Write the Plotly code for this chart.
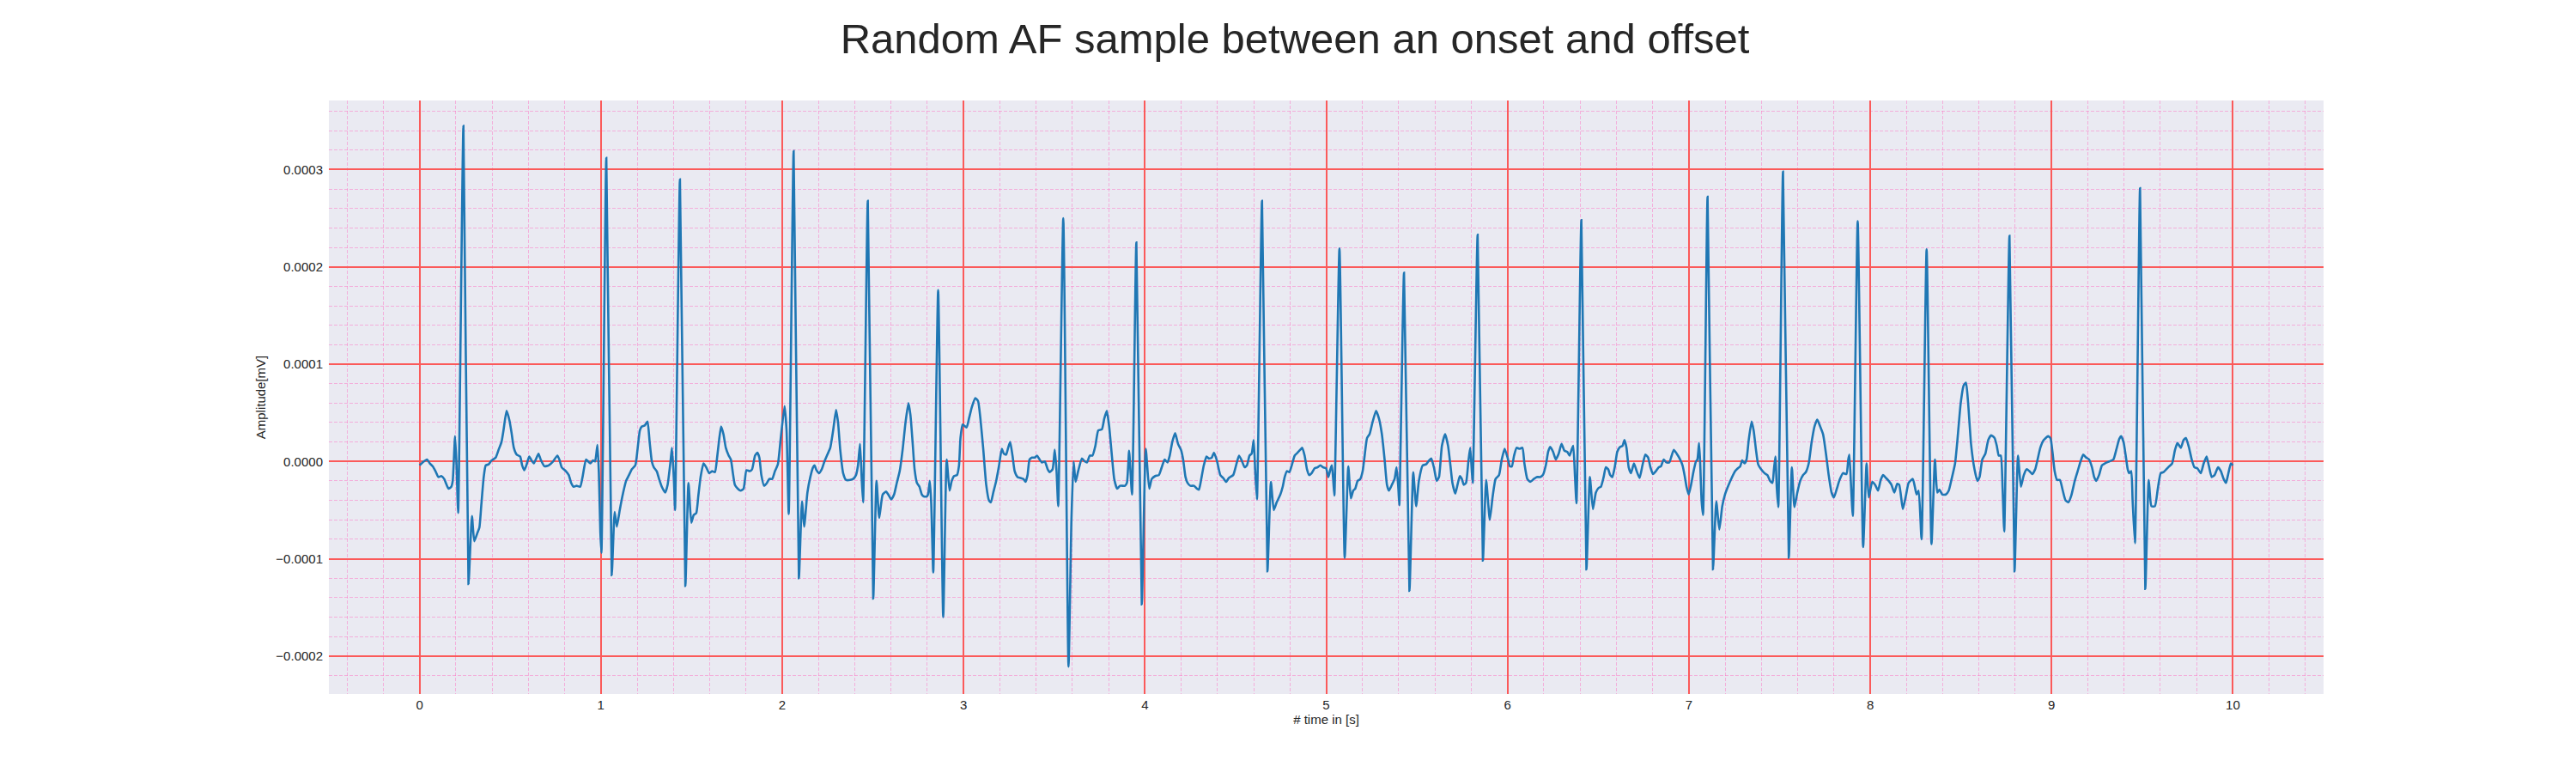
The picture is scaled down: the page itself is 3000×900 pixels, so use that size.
import plotly.graph_objects as go

# ECG trace: (time in s, amplitude in units of 1e-4 mV)
ecg_trace = [
    (0.000, -0.04), (0.017, -0.01), (0.041, 0.02), (0.057, -0.02), (0.073, -0.05),
    (0.088, -0.10), (0.104, -0.16), (0.120, -0.15), (0.136, -0.18), (0.147, -0.23),
    (0.160, -0.28), (0.175, -0.26), (0.183, -0.20), (0.196, 0.26), (0.204, -0.04),
    (0.213, -0.53), (0.242, 3.45), (0.270, -1.26), (0.289, -0.56), (0.302, -0.82),
    (0.318, -0.74), (0.330, -0.68), (0.341, -0.44), (0.354, -0.16), (0.365, -0.04),
    (0.381, -0.03), (0.397, 0.01), (0.420, 0.04), (0.436, 0.12), (0.452, 0.20),
    (0.463, 0.32), (0.480, 0.52), (0.496, 0.42), (0.507, 0.30), (0.520, 0.14),
    (0.536, 0.07), (0.555, 0.05), (0.566, -0.04), (0.578, -0.09), (0.589, -0.04),
    (0.605, 0.05), (0.618, 0.01), (0.630, -0.02), (0.641, 0.02), (0.656, 0.08),
    (0.668, 0.02), (0.689, -0.05), (0.712, -0.04), (0.736, 0.00), (0.760, 0.06),
    (0.771, 0.02), (0.784, -0.06), (0.807, -0.10), (0.823, -0.14), (0.836, -0.22),
    (0.850, -0.26), (0.866, -0.25), (0.886, -0.26), (0.899, -0.16), (0.918, 0.02),
    (0.930, 0.00), (0.942, -0.02), (0.957, 0.01), (0.968, 0.00), (0.981, 0.17),
    (0.989, -0.12), (0.997, -0.72), (1.003, -0.94), (1.030, 3.12), (1.060, -1.17),
    (1.076, -0.52), (1.088, -0.67), (1.104, -0.50), (1.123, -0.32), (1.139, -0.20),
    (1.155, -0.14), (1.171, -0.08), (1.190, -0.04), (1.202, 0.12), (1.215, 0.32),
    (1.226, 0.36), (1.242, 0.37), (1.257, 0.41), (1.269, 0.20), (1.281, 0.00),
    (1.292, -0.06), (1.308, -0.10), (1.321, -0.18), (1.336, -0.26), (1.355, -0.32),
    (1.368, -0.24), (1.384, 0.00), (1.392, 0.14), (1.403, -0.20), (1.409, -0.50),
    (1.436, 2.90), (1.466, -1.28), (1.483, -0.22), (1.499, -0.63), (1.512, -0.55),
    (1.526, -0.53), (1.537, -0.36), (1.550, -0.16), (1.566, -0.02), (1.581, -0.06),
    (1.597, -0.12), (1.613, -0.10), (1.629, -0.11), (1.641, 0.04), (1.652, 0.22),
    (1.663, 0.36), (1.676, 0.28), (1.689, 0.14), (1.705, 0.06), (1.717, 0.02),
    (1.728, -0.12), (1.739, -0.24), (1.755, -0.28), (1.771, -0.30), (1.787, -0.28),
    (1.803, -0.09), (1.821, -0.10), (1.834, -0.08), (1.850, 0.06), (1.863, 0.09),
    (1.874, 0.04), (1.885, -0.14), (1.900, -0.25), (1.916, -0.22), (1.929, -0.18),
    (1.945, -0.18), (1.960, -0.10), (1.976, -0.03), (1.992, 0.24), (2.013, 0.57),
    (2.024, 0.32), (2.036, -0.54), (2.063, 3.19), (2.092, -1.20),
    (2.109, -0.41), (2.121, -0.67), (2.139, -0.32), (2.155, -0.16), (2.170, -0.06),
    (2.178, -0.04), (2.189, -0.09), (2.202, -0.12), (2.218, -0.08), (2.233, 0.00),
    (2.249, 0.07), (2.265, 0.14), (2.281, 0.32), (2.297, 0.53), (2.308, 0.40),
    (2.320, 0.12), (2.336, -0.12), (2.352, -0.19), (2.375, -0.19), (2.391, -0.18),
    (2.407, -0.14), (2.418, -0.04), (2.429, 0.18), (2.438, -0.16), (2.446, -0.42),
    (2.472, 2.68), (2.502, -1.41), (2.520, -0.20), (2.535, -0.58), (2.554, -0.34),
    (2.573, -0.31), (2.585, -0.34), (2.601, -0.39), (2.617, -0.34), (2.632, -0.22),
    (2.648, -0.10), (2.664, 0.12), (2.680, 0.40), (2.696, 0.60), (2.707, 0.48),
    (2.719, 0.20), (2.730, -0.08), (2.743, -0.22), (2.757, -0.26), (2.770, -0.34),
    (2.781, -0.36), (2.797, -0.36), (2.804, -0.34), (2.814, -0.20), (2.822, -0.44),
    (2.833, -1.14), (2.860, 1.76), (2.888, -1.60), (2.907, 0.02), (2.923, -0.30),
    (2.935, -0.20), (2.948, -0.15), (2.964, -0.14), (2.975, -0.04), (2.983, 0.24),
    (2.995, 0.38), (3.017, 0.35), (3.030, 0.44), (3.046, 0.56), (3.065, 0.65),
    (3.080, 0.62), (3.093, 0.44), (3.109, 0.12), (3.125, -0.24), (3.140, -0.40),
    (3.151, -0.42), (3.164, -0.32), (3.180, -0.20), (3.196, -0.04), (3.211, 0.13),
    (3.222, 0.08), (3.235, 0.07), (3.246, 0.14), (3.257, 0.20), (3.270, 0.06),
    (3.282, -0.10), (3.298, -0.16), (3.314, -0.17), (3.330, -0.18), (3.342, -0.21),
    (3.353, -0.14), (3.364, 0.02), (3.377, 0.04), (3.393, 0.04), (3.405, 0.06),
    (3.416, 0.03), (3.432, -0.01), (3.448, 0.00), (3.464, -0.08), (3.475, -0.11),
    (3.491, -0.08), (3.503, 0.12), (3.513, -0.10), (3.522, -0.46), (3.550, 2.50),
    (3.579, -2.11), (3.595, -0.60), (3.607, 0.00), (3.618, -0.21), (3.632, -0.10),
    (3.653, 0.03), (3.669, 0.00), (3.681, -0.01), (3.696, 0.06), (3.711, 0.06),
    (3.727, 0.16), (3.743, 0.32), (3.763, 0.33), (3.776, 0.44), (3.790, 0.52),
    (3.803, 0.36), (3.819, 0.04), (3.831, -0.18), (3.847, -0.28), (3.863, -0.25),
    (3.874, -0.25), (3.890, -0.25), (3.901, -0.22), (3.913, 0.11), (3.929, -0.34),
    (3.953, 2.25), (3.983, -1.47), (4.005, 0.13),
    (4.024, -0.28), (4.038, -0.18), (4.057, -0.15), (4.077, -0.14), (4.093, -0.06),
    (4.109, 0.02), (4.125, -0.01), (4.137, 0.06), (4.151, 0.20), (4.167, 0.29),
    (4.183, 0.18), (4.199, 0.12), (4.211, 0.02), (4.224, -0.16), (4.235, -0.22),
    (4.251, -0.25), (4.271, -0.25), (4.287, -0.28), (4.298, -0.29), (4.309, -0.20),
    (4.325, -0.04), (4.340, 0.05), (4.353, 0.03), (4.369, 0.04), (4.381, 0.09),
    (4.397, 0.01), (4.416, -0.14), (4.432, -0.17), (4.448, -0.21), (4.463, -0.17),
    (4.487, -0.14), (4.503, -0.04), (4.519, 0.06), (4.534, 0.01), (4.550, -0.06),
    (4.563, -0.04), (4.577, 0.06), (4.589, 0.08), (4.600, 0.22), (4.608, -0.08),
    (4.618, -0.39), (4.646, 2.68), (4.676, -1.13), (4.695, -0.21), (4.711, -0.50),
    (4.727, -0.42), (4.747, -0.34), (4.760, -0.26), (4.771, -0.16), (4.783, -0.10),
    (4.797, -0.11), (4.810, -0.04), (4.826, 0.06), (4.842, 0.09), (4.857, 0.12),
    (4.868, 0.14), (4.881, 0.06), (4.894, -0.08), (4.906, -0.14), (4.920, -0.12),
    (4.936, -0.07), (4.952, -0.06), (4.968, -0.04), (4.983, -0.06), (4.999, -0.07),
    (5.012, -0.16), (5.023, -0.08), (5.031, -0.04), (5.039, -0.20), (5.045, -0.35),
    (5.073, 2.19), (5.102, -0.99), (5.122, -0.05), (5.136, -0.38), (5.149, -0.30),
    (5.160, -0.28), (5.173, -0.20), (5.188, -0.18), (5.201, -0.10), (5.212, 0.06),
    (5.225, 0.24), (5.239, 0.28), (5.255, 0.40), (5.275, 0.52), (5.291, 0.44),
    (5.307, 0.28), (5.322, 0.02), (5.335, -0.24), (5.346, -0.30), (5.362, -0.24),
    (5.377, -0.18), (5.388, -0.06), (5.398, -0.28), (5.403, -0.45), (5.429, 1.94),
    (5.459, -1.33), (5.480, -0.11), (5.496, -0.46), (5.511, -0.20), (5.532, -0.04),
    (5.551, -0.03), (5.567, 0.01), (5.579, 0.03), (5.595, -0.07), (5.609, -0.20),
    (5.622, -0.16), (5.638, 0.16), (5.656, 0.28), (5.672, 0.16), (5.685, -0.04),
    (5.696, -0.22), (5.712, -0.33), (5.724, -0.24), (5.737, -0.15), (5.748, -0.18),
    (5.759, -0.24), (5.771, -0.22), (5.784, 0.00), (5.794, 0.14), (5.803, -0.10),
    (5.808, -0.22), (5.835, 2.33), (5.864, -1.02), (5.882, -0.19), (5.902, -0.60),
    (5.918, -0.36), (5.934, -0.18), (5.953, -0.14), (5.968, 0.02), (5.984, 0.13),
    (6.000, 0.04), (6.013, -0.05), (6.024, -0.05), (6.036, 0.06),
    (6.050, 0.14), (6.066, 0.13), (6.082, 0.14), (6.093, -0.02), (6.109, -0.18),
    (6.125, -0.21), (6.145, -0.18), (6.161, -0.16), (6.180, -0.16), (6.195, -0.14),
    (6.211, -0.04), (6.224, 0.10), (6.235, 0.15), (6.251, 0.10), (6.266, 0.02),
    (6.282, 0.08), (6.298, 0.18), (6.314, 0.11), (6.329, 0.10), (6.342, 0.06),
    (6.353, 0.12), (6.362, 0.16), (6.372, -0.16), (6.380, -0.43), (6.407, 2.48),
    (6.435, -1.11), (6.454, -0.16), (6.471, -0.49), (6.487, -0.32), (6.503, -0.27),
    (6.515, -0.26), (6.530, -0.16), (6.542, -0.06), (6.555, -0.08), (6.566, -0.14),
    (6.578, -0.16), (6.593, -0.04), (6.605, 0.10), (6.621, 0.15), (6.634, 0.16),
    (6.645, 0.22), (6.656, 0.14), (6.668, -0.06), (6.681, -0.12), (6.697, -0.02),
    (6.712, -0.10), (6.728, -0.17), (6.744, -0.04), (6.760, 0.07), (6.775, 0.04),
    (6.788, -0.06), (6.802, -0.13), (6.818, -0.10), (6.834, -0.06), (6.846, -0.05),
    (6.861, 0.02), (6.876, -0.01), (6.892, -0.01), (6.905, 0.06), (6.917, 0.12),
    (6.933, 0.08), (6.949, 0.03), (6.965, -0.04), (6.976, -0.14), (6.987, -0.26),
    (6.999, -0.34), (7.012, -0.24), (7.026, -0.10), (7.039, 0.00), (7.047, 0.02),
    (7.056, 0.19), (7.062, 0.00), (7.070, -0.40), (7.078, -0.55), (7.103, 2.72),
    (7.133, -1.11), (7.151, -0.41), (7.168, -0.70), (7.184, -0.46), (7.199, -0.34),
    (7.215, -0.26), (7.236, -0.17), (7.255, -0.10), (7.270, -0.07), (7.283, -0.05),
    (7.294, 0.01), (7.307, -0.02), (7.318, 0.02), (7.330, 0.22), (7.346, 0.41),
    (7.357, 0.32), (7.370, 0.12), (7.382, -0.03), (7.398, -0.08), (7.417, -0.12),
    (7.433, -0.14), (7.448, -0.20), (7.461, -0.22), (7.469, -0.08), (7.477, 0.05),
    (7.485, -0.28), (7.493, -0.47), (7.519, 2.98), (7.551, -0.99), (7.568, -0.06),
    (7.582, -0.47), (7.598, -0.32), (7.614, -0.20), (7.630, -0.14), (7.645, -0.11),
    (7.661, -0.02), (7.677, 0.20), (7.693, 0.36), (7.708, 0.43), (7.724, 0.36),
    (7.740, 0.28), (7.756, 0.08), (7.771, -0.14), (7.787, -0.32), (7.800, -0.37),
    (7.816, -0.28), (7.831, -0.19), (7.850, -0.12), (7.869, -0.13), (7.879, 0.02),
    (7.885, 0.07), (7.894, -0.24), (7.904, -0.56), (7.931, 2.47), (7.961, -0.88),
    (7.980, -0.02), (7.992, -0.37), (8.011, -0.21), (8.027, -0.24), (8.043, -0.30),
    (8.058, -0.19), (8.071, -0.14), (8.087, -0.17), (8.102, -0.20),
    (8.117, -0.24), (8.133, -0.32), (8.149, -0.23), (8.160, -0.24), (8.180, -0.49),
    (8.196, -0.36), (8.212, -0.22), (8.235, -0.18), (8.246, -0.26), (8.256, -0.34),
    (8.267, -0.30), (8.283, -0.80), (8.311, 2.18), (8.338, -0.85), (8.357, 0.02),
    (8.370, -0.32), (8.382, -0.29), (8.398, -0.34), (8.417, -0.34), (8.433, -0.30),
    (8.449, -0.18), (8.468, -0.02), (8.480, 0.20), (8.499, 0.60), (8.515, 0.78),
    (8.528, 0.81), (8.540, 0.60), (8.556, 0.18), (8.575, -0.08), (8.591, -0.20),
    (8.603, -0.16), (8.618, 0.02), (8.635, 0.08), (8.651, 0.22), (8.667, 0.27),
    (8.686, 0.24), (8.698, 0.16), (8.709, 0.06), (8.720, 0.06), (8.730, -0.28),
    (8.739, -0.72), (8.768, 2.32), (8.796, -1.13), (8.815, 0.06), (8.831, -0.26),
    (8.847, -0.14), (8.863, -0.08), (8.878, -0.10), (8.894, -0.13), (8.910, -0.08),
    (8.923, 0.02), (8.938, 0.14), (8.957, 0.22), (8.981, 0.26), (8.994, 0.24),
    (9.005, 0.10), (9.017, -0.10), (9.030, -0.19), (9.046, -0.19), (9.062, -0.30),
    (9.077, -0.40), (9.093, -0.42), (9.109, -0.35), (9.128, -0.20), (9.144, -0.10),
    (9.160, 0.00), (9.175, 0.07), (9.191, 0.04), (9.207, 0.02), (9.223, -0.06),
    (9.235, -0.16), (9.246, -0.20), (9.262, -0.14), (9.278, -0.04), (9.294, -0.02),
    (9.318, 0.00), (9.341, 0.02), (9.357, 0.12), (9.373, 0.23), (9.384, 0.26),
    (9.397, 0.20), (9.409, 0.06), (9.420, -0.08), (9.428, -0.12), (9.439, -0.10),
    (9.447, -0.40), (9.460, -0.84), (9.488, 2.81), (9.517, -1.31), (9.536, -0.19),
    (9.551, -0.46), (9.570, -0.46), (9.586, -0.28), (9.602, -0.12), (9.618, -0.11),
    (9.633, -0.08), (9.649, -0.05), (9.665, -0.02), (9.681, 0.12), (9.694, 0.19),
    (9.713, 0.14), (9.728, 0.22), (9.741, 0.24), (9.757, 0.15), (9.773, 0.02),
    (9.788, -0.06), (9.804, -0.07), (9.823, -0.12), (9.839, -0.02), (9.855, 0.05),
    (9.867, -0.04), (9.883, -0.16), (9.899, -0.14), (9.918, -0.06), (9.934, -0.10),
    (9.949, -0.18), (9.962, -0.22), (9.973, -0.14), (9.989, -0.02), (10.000, -0.04),
]
amp_unit = 1e-4

x_ticks = list(range(0, 11))
y_ticks = [-0.0002, -0.0001, 0.0, 0.0001, 0.0002, 0.0003]

time_s = [t for t, _ in ecg_trace]
amplitude = [a * amp_unit for _, a in ecg_trace]

font = "Liberation Sans, Arial, sans-serif"
text_col = "#262626"
major = "#fb5a5a"
minor = "rgba(255,105,190,0.45)"

fig = go.Figure()
fig.add_trace(go.Scatter(
    x=time_s, y=amplitude, mode="lines",
    line=dict(color="#1f77b4", width=2.6, shape="spline", smoothing=0.5),
    showlegend=False,
))

fig.update_layout(
    width=3000, height=900,
    paper_bgcolor="white", plot_bgcolor="#eaeaf2",
    margin=dict(l=375, r=302, t=109, b=100),
    font=dict(family=font, size=15, color=text_col),
    title=dict(text="Random AF sample between an onset and offset",
               x=0.5, xanchor="center", y=1 - 37 / 900, yanchor="middle",
               font=dict(size=49, color=text_col)),
)
fig.update_xaxes(
    range=[-0.5, 10.5], tickvals=x_ticks, ticks="", showline=False, zeroline=False,
    showgrid=True, gridcolor=major, gridwidth=1.6,
    minor=dict(dtick=0.2, tick0=0, showgrid=True, gridcolor=minor,
               gridwidth=1, griddash="4px,2px"),
    title=dict(text="# time in [s]", standoff=3, font=dict(size=15)),
    ticklabelstandoff=2,
)
fig.update_yaxes(
    range=[-0.000239, 0.000371], tickvals=y_ticks, tickformat=".4f", ticks="",
    showline=False, zeroline=False,
    showgrid=True, gridcolor=major, gridwidth=1.6,
    minor=dict(dtick=0.00002, tick0=0, showgrid=True, gridcolor=minor,
               gridwidth=1, griddash="4px,2px"),
    title=dict(text="Amplitude[mV]", standoff=8, font=dict(size=15)),
    ticklabelstandoff=6,
)

fig.write_html("out.html")
